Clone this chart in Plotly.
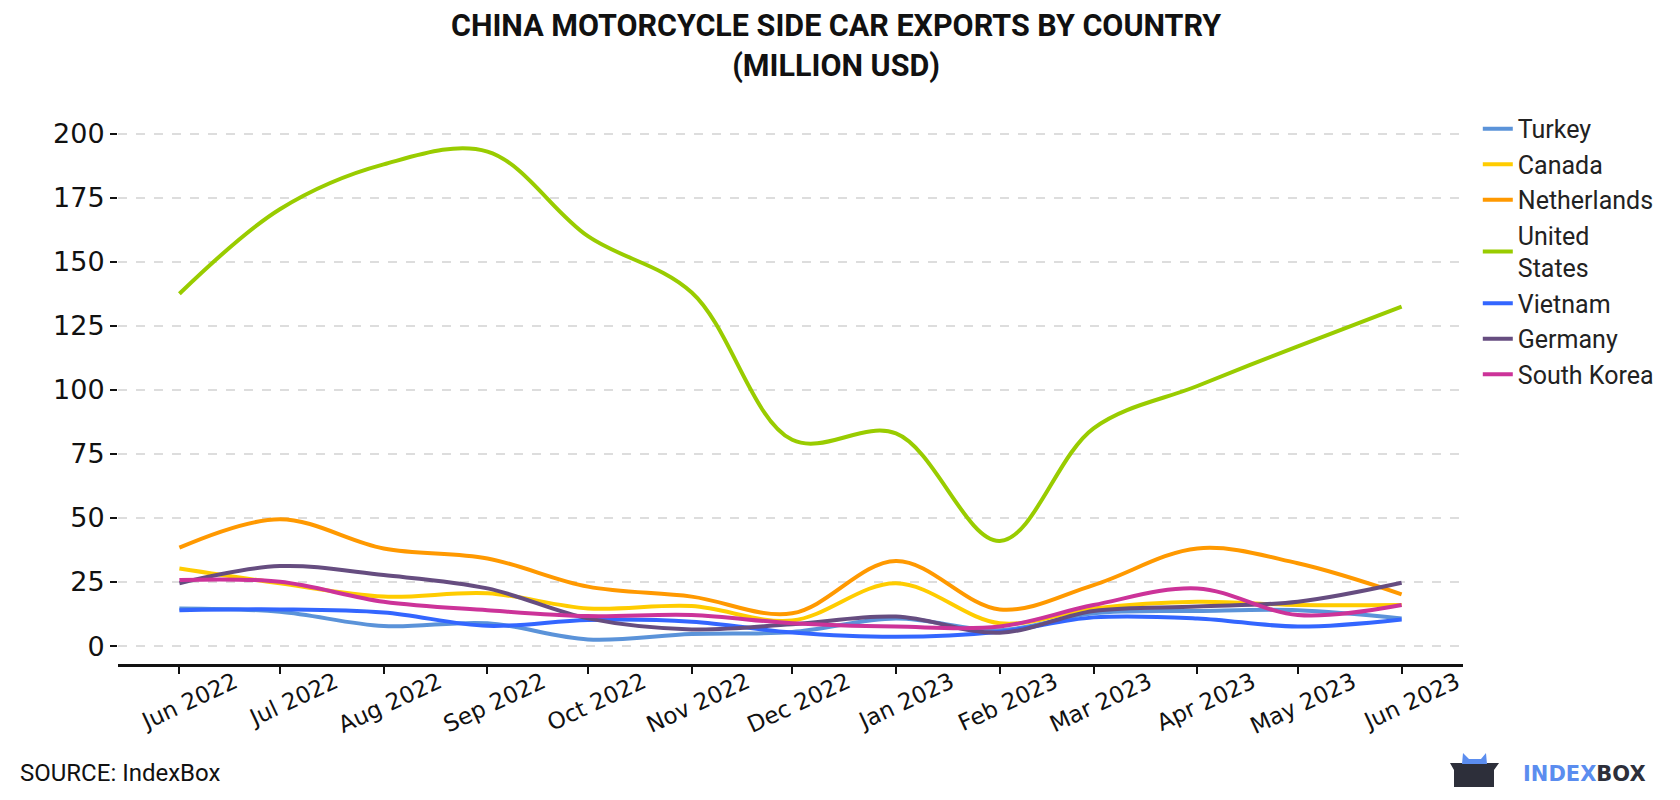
import plotly.graph_objects as go

months = ["2022-06-01", "2022-07-01", "2022-08-01", "2022-09-01", "2022-10-01", "2022-11-01",
          "2022-12-01", "2023-01-01", "2023-02-01", "2023-03-01", "2023-04-01", "2023-05-01",
          "2023-06-01"]

turkey = [14.7, 13.4, 7.8, 8.9, 2.6, 4.7, 5.5, 10.8, 6.2, 12.8, 13.7, 14.0, 10.8]
canada = [30.3, 24.5, 19.3, 20.6, 14.7, 15.6, 10.0, 24.5, 8.9, 14.7, 17.3, 16.0, 16.0]
netherlands = [38.4, 49.5, 38.1, 34.2, 23.2, 19.3, 12.8, 33.2, 14.3, 23.8, 38.1, 32.3, 20.2]
united_states = [137.5, 170.5, 188.0, 193.0, 160.0, 138.0, 80.5, 83.0, 41.0, 85.0, 101.5, 117.0, 132.5]
vietnam = [14.0, 14.3, 13.1, 7.9, 10.2, 9.5, 5.3, 3.6, 5.6, 11.2, 10.8, 7.6, 10.4]
germany = [24.5, 31.2, 27.7, 22.5, 10.8, 6.5, 8.5, 11.5, 5.2, 13.7, 15.4, 17.3, 24.7]
south_korea = [25.8, 25.1, 17.3, 14.0, 11.7, 12.1, 8.9, 7.6, 7.6, 16.0, 22.5, 12.1, 16.0]

series = [
    ("Turkey", turkey, "#5b93d9"),
    ("Canada", canada, "#ffcc00"),
    ("Netherlands", netherlands, "#ff9900"),
    ("United<br>States", united_states, "#99cc00"),
    ("Vietnam", vietnam, "#3366ff"),
    ("Germany", germany, "#664d80"),
    ("South Korea", south_korea, "#cc3399"),
]

fig = go.Figure()
for name, vals, color in series:
    fig.add_trace(go.Scatter(
        x=months, y=vals, name=name, mode="lines",
        line=dict(color=color, width=4, shape="spline", smoothing=1.0),
    ))

fig.update_layout(
    width=1680, height=800,
    paper_bgcolor="white", plot_bgcolor="white",
    font=dict(family="Roboto", color="#222222"),
    title=dict(
        text="<b>CHINA MOTORCYCLE SIDE CAR EXPORTS BY COUNTRY<br>(MILLION USD)</b>",
        x=0.4929, xanchor="center", y=0.965, yanchor="top",
        font=dict(size=30.5, color="#111111"),
    ),
    margin=dict(l=110, r=225, t=100, b=144, autoexpand=False),
    legend=dict(
        x=1.011, xanchor="left", y=1.0036, yanchor="top",
        font=dict(size=25, color="#222222"),
        itemwidth=30,
    ),
    showlegend=True,
)

fig.update_xaxes(
    type="date",
    range=["2022-05-13 16:00", "2023-06-19 08:00"],
    tickvals=months,
    tickformat="%b %Y",
    tickangle=-25,
    tickfont=dict(family="DejaVu Sans", size=23, color="#111111"),
    ticklabelshift=55, ticklabelstandoff=-14,
    showline=True, linecolor="#111111", linewidth=3,
    ticks="outside", ticklen=7, tickwidth=2, tickcolor="#111111",
    showgrid=False, zeroline=False, automargin=False,
)

fig.update_yaxes(
    range=[-7, 210],
    tickvals=[0, 25, 50, 75, 100, 125, 150, 175, 200],
    tickfont=dict(family="DejaVu Sans", size=27, color="#111111"),
    ticks="outside", ticklen=7, tickwidth=2, tickcolor="#111111",
    showgrid=True, gridcolor="#dddddd", griddash="dash", gridwidth=2,
    showline=False, zeroline=False, automargin=False,
)

fig.add_annotation(
    text="SOURCE: IndexBox", xref="paper", yref="paper",
    x=-0.0743, y=-0.196, xanchor="left", yanchor="middle",
    showarrow=False, font=dict(size=24, color="#111111"),
)

fig.add_annotation(
    text="<b><span style='color:#5b8def'>INDEX</span><span style='color:#2d2f3a'>BOX</span></b>",
    xref="paper", yref="paper",
    x=1.1375, y=-0.1987, xanchor="right", yanchor="middle",
    showarrow=False, font=dict(family="DejaVu Sans", size=21),
)

# box logo
fig.add_shape(
    type="path", xref="paper", yref="paper",
    path="M 0.99033 -0.17806 L 1.02677 -0.17806 L 1.02305 -0.19065 L 1.02305 -0.22122 "
         "L 0.99331 -0.22122 L 0.99331 -0.19065 Z",
    fillcolor="#2d2f3a", line=dict(width=0),
)
fig.add_shape(
    type="path", xref="paper", yref="paper",
    path="M 0.99926 -0.17986 L 1.0000 -0.16007 L 1.00446 -0.17086 L 1.01338 -0.17086 "
         "L 1.01710 -0.16007 L 1.01784 -0.17986 Z",
    fillcolor="#5b8def", line=dict(width=0),
)

fig.write_html("out.html")
